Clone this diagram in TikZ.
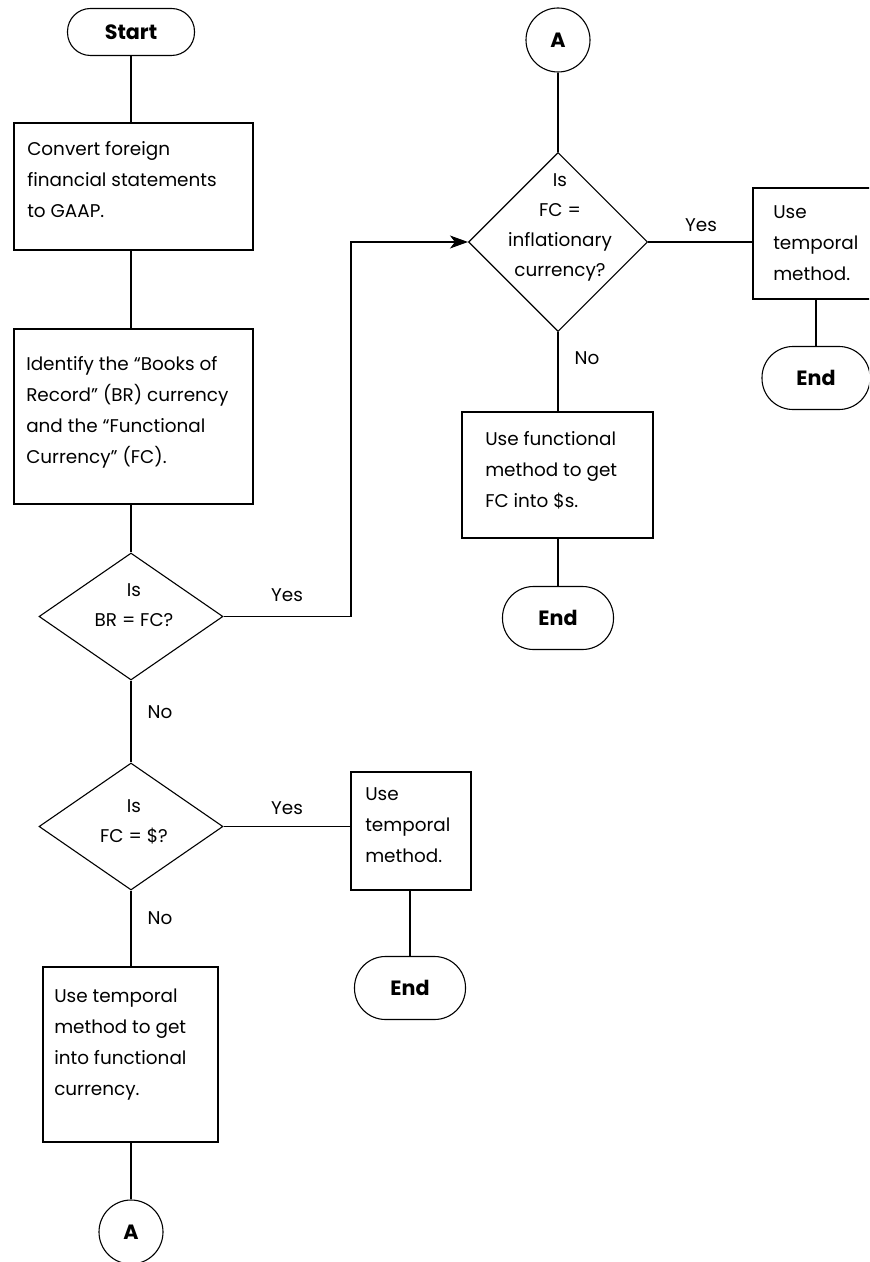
\documentclass[tikz,border=0pt]{standalone}
\usepackage{fontspec}
\setmainfont{Poppins}
\usetikzlibrary{shapes.geometric,arrows.meta}
\newdimen\px \px=0.75pt
\tikzset{
  conn/.style={line width=1.1\px},
  proc/.style={draw, line width=1.1\px, inner sep=0},
  startbox/.style={draw, line width=1.1\px, inner sep=0, rounded corners=23\px, font=\fontsize{15.5}{18}\selectfont\bfseries},
  endbox/.style={draw, line width=1.1\px, inner sep=0, minimum width=111\px, minimum height=63\px, rounded corners=31\px, font=\fontsize{15.5}{18}\selectfont\bfseries},
  conncirc/.style={draw, circle, line width=1.1\px, inner sep=0, minimum size=64\px, font=\fontsize{15.5}{18}\selectfont\bfseries},
  dec/.style={draw, diamond, line width=1.1\px, inner sep=0},
  txt/.style={font=\fontsize{13.8}{23.25}\selectfont, align=left, anchor=west, inner sep=0},
  ctxt/.style={font=\fontsize{13.8}{22.5}\selectfont, align=center, inner sep=0},
  lbl/.style={font=\fontsize{13.8}{16}\selectfont, inner sep=0},
}
\begin{document}
\begin{tikzpicture}[x=0.75pt,y=-0.75pt]
\useasboundingbox (0,0) rectangle (869,1262);
\clip (0,0) rectangle (869,1262);
% left column
\node[startbox, minimum width=127\px, minimum height=47\px] (start) at (131,32) {Start};
\node[proc, minimum width=239\px, minimum height=127\px] (box1) at (133.5,186.5) {};
\node[txt] (box1t) at (27,179.5) {Convert foreign\\financial statements\\to GAAP.};
\node[proc, minimum width=239\px, minimum height=175\px] (box2) at (133.5,416.5) {};
\node[txt] (box2t) at (26,412) {Identify the “Books of\\Record” (BR) currency\\and the “Functional\\Currency” (FC).};
\node[dec, minimum width=184\px, minimum height=127\px] (d1) at (131,616.5) {};
\node[ctxt] (d1t) at (134,605) {Is\\BR = FC?};
\node[dec, minimum width=184\px, minimum height=127\px] (d3) at (131,826.5) {};
\node[ctxt] (d3t) at (134,821.5) {Is\\FC = \$?};
\node[proc, minimum width=175\px, minimum height=175\px] (box4) at (130.5,1054.5) {};
\node[txt] (box4t) at (54,1044.5) {Use temporal\\method to get\\into functional\\currency.};
\node[conncirc] (a1) at (131,1232) {A};
% middle
\node[proc, minimum width=120\px, minimum height=118\px] (box3) at (411,831) {};
\node[txt] (box3t) at (365,825.5) {Use\\temporal\\method.};
\node[endbox] (end3) at (410,988) {End};
% right column
\node[conncirc] (a2) at (558,40) {A};
\node[dec, minimum width=179\px, minimum height=179\px] (d2) at (558,242) {};
\node[ctxt] (d2t) at (560,227.5) {Is\\FC =\\inflationary\\currency?};
\node[proc, minimum width=191\px, minimum height=126\px] (box5) at (557.5,475) {};
\node[txt] (box5t) at (485,470) {Use functional\\method to get\\FC into \$s.};
\node[endbox] (end2) at (558,618) {End};
\node[proc, minimum width=126\px, minimum height=111\px] (box6) at (816,243.5) {};
\node[txt] (box6t) at (773,243) {Use\\temporal\\method.};
\node[endbox, minimum width=108\px] (end1) at (816,378) {End};
% labels
\node[lbl] (y1) at (287,595) {Yes};
\node[lbl] (y2) at (287,808) {Yes};
\node[lbl] (y3) at (701,225) {Yes};
\node[lbl] (n1) at (160,712) {No};
\node[lbl] (n2) at (160,918) {No};
\node[lbl] (n3) at (587,358) {No};
% connectors
\draw[conn] (start.south) -- (start.south |- box1.north);
\draw[conn] (box1.south -| start) -- (box2.north -| start);
\draw[conn] (box2.south -| d1) -- (d1.north);
\draw[conn] (d1.south) -- (d3.north);
\draw[conn] (d3.south) -- (box4.north -| d3);
\draw[conn] (box4.south -| a1) -- (a1.north);
\draw[conn] (d3.east) -- (d3.east -| box3.west);
\draw[conn] (box3.south -| end3) -- (end3.north);
\coordinate (jog) at (351,616.5);
\draw[conn, -{Stealth[length=13.5pt, width=9.75pt, inset=3.75pt]}] (d1.east) -- (jog) |- (d2.west);
\draw[conn] (a2.south) -- (d2.north);
\draw[conn] (d2.east) -- (d2.east -| box6.west);
\draw[conn] (box6.south -| end1) -- (end1.north);
\draw[conn] (d2.south) -- (d2.south |- box5.north);
\draw[conn] (box5.south -| end2) -- (end2.north);
\end{tikzpicture}
\end{document}
